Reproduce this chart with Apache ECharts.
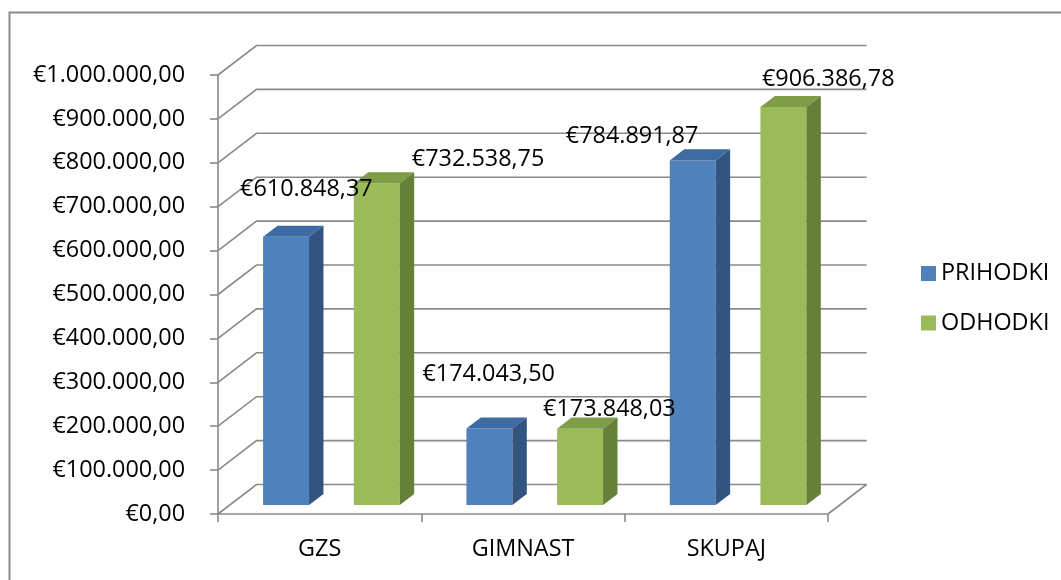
<!DOCTYPE html>
<html>
<head>
<meta charset="utf-8">
<script src="https://cdn.jsdelivr.net/npm/echarts@6/dist/echarts.min.js"></script>
<style>
  html, body { margin: 0; padding: 0; background: #fff; }
  #chart { width: 1061px; height: 580px; }
</style>
</head>
<body>
<div id="chart"></div>
<script>
// ---- data ----
var categories = ['GZS', 'GIMNAST', 'SKUPAJ'];
var seriesNames = ['PRIHODKI', 'ODHODKI'];
var prihodki = [610848.37, 174043.50, 784891.87];
var odhodki = [732538.75, 173848.03, 906386.78];
var yTickValues = [0, 100000, 200000, 300000, 400000, 500000, 600000, 700000, 800000, 900000, 1000000];
var yTickLabels = ['€0,00', '€100.000,00', '€200.000,00', '€300.000,00', '€400.000,00', '€500.000,00',
                   '€600.000,00', '€700.000,00', '€800.000,00', '€900.000,00', '€1.000.000,00'];

// ---- layout / style (not data) ----
var FONT = '"Open Sans", "Noto Sans", sans-serif';
var FS = 23.4;
var LINE = '#8a8a8a';
var DEPTH_X = 38.5, DEPTH_Y = -29.5;   // full floor depth offset
var D1 = 0.305, D2 = 0.68;             // bar front / back depth fractions
var BAR_W = 0.226, BAR_OFF = 0.223;    // fractions of category band
var colors = [
  { front: '#4f81bd', top: '#3f6ba3', side: '#32547f' },
  { front: '#9bbb59', top: '#7f9c47', side: '#66803a' }
];
// label offsets relative to bar front top-left corner [dx, dy(center)]
var labelOffsets = [
  [[-23, -47.5], [-44, -54], [-104, -24.5]],
  [[58, -24.5], [-14, -19], [1.5, -27.5]]
];

function fmtEuro(v) {
  var parts = v.toFixed(2).split('.');
  var ip = parts[0].replace(/\B(?=(\d{3})+(?!\d))/g, '.');
  return '€' + ip + ',' + parts[1];
}

function barRenderer(si) {
  return function (params, api) {
    var ci = api.value(0), v = api.value(1);
    var base = api.coord([ci, 0]);
    var top = api.coord([ci, v]);
    var band = api.size([1, 0])[0];
    var w = band * BAR_W;
    var cx = base[0] + band * (si === 0 ? -BAR_OFF : BAR_OFF) + DEPTH_X * D1;
    var x0 = cx - w / 2, x1 = cx + w / 2;
    var yb = base[1] + DEPTH_Y * D1;
    var yt = top[1] + DEPTH_Y * D1;
    var ddx = DEPTH_X * (D2 - D1), ddy = DEPTH_Y * (D2 - D1);
    var c = colors[si];
    var off = labelOffsets[si][params.dataIndex];
    return {
      type: 'group',
      children: [
        { type: 'polygon', shape: { points: [[x0, yb], [x1, yb], [x1, yt], [x0, yt]] },
          style: { fill: c.front } },
        { type: 'polygon', shape: { points: [[x0, yt], [x1, yt], [x1 + ddx, yt + ddy], [x0 + ddx, yt + ddy]] },
          style: { fill: c.top } },
        { type: 'polygon', shape: { points: [[x1, yb], [x1 + ddx, yb + ddy], [x1 + ddx, yt + ddy], [x1, yt]] },
          style: { fill: c.side } },
        { type: 'text', z2: 10,
          style: { x: x0 + off[0], y: yt + off[1], text: fmtEuro(v), fill: '#000',
                   font: FS + 'px ' + FONT, align: 'left', verticalAlign: 'middle' } }
      ]
    };
  };
}

function gridRenderer(params, api) {
  var v = api.value(1);
  var p = api.coord([0, v]);
  var cs = params.coordSys;
  var y = p[1];
  var gx = cs.x, gw = cs.width;
  var children = [
    { type: 'polyline', shape: { points: [[gx, y], [gx + DEPTH_X, y + DEPTH_Y], [gx + gw + DEPTH_X, y + DEPTH_Y]] },
      style: { stroke: LINE, lineWidth: 1.6, fill: null } }
  ];
  if (v === 0) {
    children.push({ type: 'line', shape: { x1: gx + gw, y1: y, x2: gx + gw + DEPTH_X, y2: y + DEPTH_Y },
      style: { stroke: LINE, lineWidth: 1.6 } });
  }
  return { type: 'group', children: children };
}

var chart = echarts.init(document.getElementById('chart'), null, { renderer: 'canvas' });
chart.setOption({
  animation: false,
  backgroundColor: '#fff',
  graphic: [{
    type: 'rect', left: 7, top: 10, silent: true,
    shape: { x: 0, y: 0, width: 1200, height: 700 },
    style: { fill: null, stroke: '#8c8c8c', lineWidth: 2 }
  }],
  grid: { left: 218, top: 75, width: 610, height: 439 },
  legend: {
    data: seriesNames.map(function (n) { return { name: n, icon: 'rect' }; }),
    orient: 'vertical', left: 921, top: 258.5, padding: 0,
    itemWidth: 15, itemHeight: 15, itemGap: 19.5,
    textStyle: { fontFamily: FONT, fontSize: FS, color: '#000', lineHeight: 30 }
  },
  xAxis: {
    type: 'category', data: categories, boundaryGap: true,
    axisLine: { show: true, lineStyle: { color: LINE, width: 1.6 } },
    axisTick: { show: true, length: 8, lineStyle: { color: LINE, width: 1.6 } },
    axisLabel: { margin: 35, fontFamily: FONT, fontSize: FS, color: '#000', verticalAlign: 'middle' },
    splitLine: { show: false }
  },
  yAxis: {
    type: 'value', min: 0, max: 1000000, interval: 100000,
    axisLine: { show: true, lineStyle: { color: LINE, width: 1.6 } },
    axisTick: { show: true, length: 8, lineStyle: { color: LINE, width: 1.6 } },
    axisLabel: {
      margin: 33, fontFamily: FONT, fontSize: FS, color: '#000',
      formatter: function (val) { var i = yTickValues.indexOf(val); return i >= 0 ? yTickLabels[i] : ''; }
    },
    splitLine: { show: false }
  },
  series: [
    {
      type: 'custom', name: '_grid', z: 1, silent: true,
      renderItem: gridRenderer,
      encode: { x: 0, y: 1 },
      data: yTickValues.map(function (v) { return [0, v]; })
    },
    {
      type: 'custom', name: seriesNames[0], z: 3,
      itemStyle: { color: colors[0].front },
      renderItem: barRenderer(0),
      encode: { x: 0, y: 1 },
      data: prihodki.map(function (v, i) { return [i, v]; })
    },
    {
      type: 'custom', name: seriesNames[1], z: 3,
      itemStyle: { color: colors[1].front },
      renderItem: barRenderer(1),
      encode: { x: 0, y: 1 },
      data: odhodki.map(function (v, i) { return [i, v]; })
    }
  ]
});
</script>
</body>
</html>
